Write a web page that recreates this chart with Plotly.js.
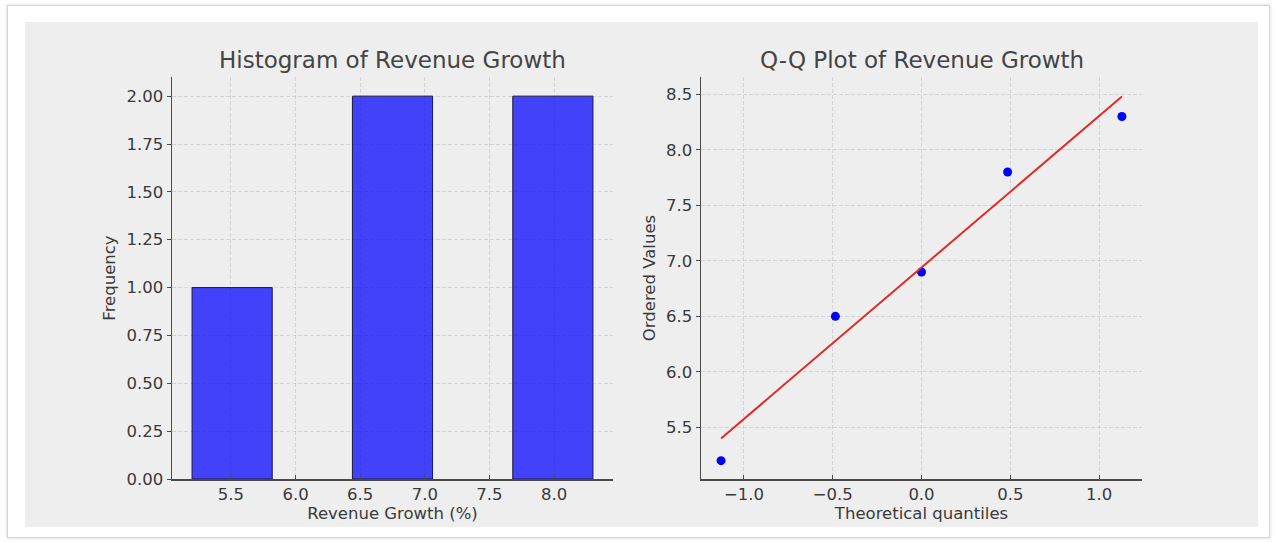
<!DOCTYPE html>
<html>
<head>
<meta charset="utf-8">
<script src="https://cdn.plot.ly/plotly-3.0.1.min.js"></script>
<style>
  html, body { margin: 0; padding: 0; background: #ffffff; }
  #page { position: relative; width: 1275px; height: 542px; overflow: hidden; }
  #card {
    position: absolute; left: 7px; top: 5px; width: 1263px; height: 533px;
    background: #ffffff; border: 1px solid #d4d4d4; box-sizing: border-box;
    box-shadow: 0 0 3px rgba(0,0,0,0.18);
  }
  #panel {
    position: absolute; left: 25px; top: 22px; width: 1233px; height: 505px;
    background: #eeeeee;
  }
  #chart { position: absolute; left: 0; top: 0; width: 1275px; height: 542px; }
</style>
</head>
<body>
<div id="page">
  <div id="card"></div>
  <div id="panel"></div>
  <div id="chart"></div>
</div>
<script>
// Revenue growth observations (%)
const revenueGrowth = [5.2, 6.5, 6.9, 7.8, 8.3];

// Histogram: left edge of each bin, bin width and count per bin
const binLeftEdges = [5.2, 5.82, 6.44, 7.06, 7.68];
const binWidth = 0.62;
const binCounts = [1, 0, 2, 0, 2];

// Q-Q plot: theoretical normal quantiles, ordered sample and fitted line
const theoreticalQuantiles = [-1.129, -0.485, 0.0, 0.485, 1.129];
const orderedValues = [5.2, 6.5, 6.9, 7.8, 8.3];
const fitLineValues = [5.40, 6.28, 6.94, 7.60, 8.48];

// Tick labels
const histXTicks = [5.5, 6.0, 6.5, 7.0, 7.5, 8.0];
const histYTicks = [0, 0.25, 0.5, 0.75, 1.0, 1.25, 1.5, 1.75, 2.0];
const qqXTicks = [-1.0, -0.5, 0.0, 0.5, 1.0];
const qqYTicks = [5.5, 6.0, 6.5, 7.0, 7.5, 8.0, 8.5];

const FONT = 'DejaVu Sans, Liberation Sans, sans-serif';
const TEXT = '#3a3a3a';
const AXIS = '#4a4a4a';
const GRID = 'rgba(150,150,165,0.30)';

const traces = [
  {
    type: 'bar',
    x: binLeftEdges,
    y: binCounts,
    width: binWidth,
    offset: 0,
    marker: {
      color: 'rgba(0,0,255,0.72)',
      // empty bins get no outline so nothing is drawn on the baseline
      line: { color: '#1a1a40', width: binCounts.map(c => (c > 0 ? 1 : 0)) }
    },
    xaxis: 'x', yaxis: 'y',
    hoverinfo: 'x+y',
    showlegend: false
  },
  {
    type: 'scatter', mode: 'markers',
    x: theoreticalQuantiles, y: orderedValues,
    marker: { color: '#0000ff', size: 9 },
    xaxis: 'x2', yaxis: 'y2',
    showlegend: false
  },
  {
    type: 'scatter', mode: 'lines',
    x: theoreticalQuantiles, y: fitLineValues,
    line: { color: '#dd2c28', width: 2 },
    xaxis: 'x2', yaxis: 'y2',
    showlegend: false
  }
];

function axisBase(extra) {
  return Object.assign({
    showline: true, linecolor: AXIS, linewidth: 1.5,
    zeroline: false, showgrid: true,
    gridcolor: GRID, griddash: '4px,2px', gridwidth: 1,
    tickcolor: AXIS, ticklen: 4, tickwidth: 1,
    tickfont: { family: FONT, size: 16.5, color: TEXT },
    tickmode: 'array', mirror: false, fixedrange: true
  }, extra);
}

const W = 1275, H = 542;
const yDom = [(H - 479) / H, (H - 77) / H];

const layout = {
  width: W, height: H,
  margin: { l: 0, r: 0, t: 0, b: 0 },
  paper_bgcolor: 'rgba(0,0,0,0)',
  plot_bgcolor: 'rgba(0,0,0,0)',
  font: { family: FONT, color: TEXT },
  bargap: 0,
  xaxis: axisBase({
    domain: [172 / W, 613 / W], range: [5.045, 8.455],
    tickvals: histXTicks, ticktext: histXTicks.map(v => v.toFixed(1)),
    ticks: 'inside', anchor: 'y',
    title: { text: 'Revenue Growth (%)', font: { family: FONT, size: 16.5, color: TEXT }, standoff: 4 }
  }),
  yaxis: axisBase({
    domain: yDom, range: [0, 2.1],
    tickvals: histYTicks, ticktext: histYTicks.map(v => v.toFixed(2)),
    ticks: 'outside', anchor: 'x',
    title: { text: 'Frequency', font: { family: FONT, size: 16.5, color: TEXT }, standoff: 6 }
  }),
  xaxis2: axisBase({
    domain: [701 / W, 1142 / W], range: [-1.242, 1.242],
    tickvals: qqXTicks, ticktext: qqXTicks.map(v => v.toFixed(1).replace('-', '\u2212')),
    ticks: 'inside', anchor: 'y2',
    title: { text: 'Theoretical quantiles', font: { family: FONT, size: 16.5, color: TEXT }, standoff: 4 }
  }),
  yaxis2: axisBase({
    domain: yDom, range: [5.035, 8.656],
    tickvals: qqYTicks, ticktext: qqYTicks.map(v => v.toFixed(1)),
    ticks: 'outside', anchor: 'x2',
    title: { text: 'Ordered Values', font: { family: FONT, size: 16.5, color: TEXT }, standoff: 6 }
  }),
  annotations: [
    {
      text: 'Histogram of Revenue Growth', xref: 'paper', yref: 'paper',
      x: (172 + 613) / 2 / W, y: (H - 60) / H, xanchor: 'center', yanchor: 'middle',
      showarrow: false, font: { family: FONT, size: 23, color: '#444444' }
    },
    {
      text: 'Q-Q Plot of Revenue Growth', xref: 'paper', yref: 'paper',
      x: (701 + 1142) / 2 / W, y: (H - 60) / H, xanchor: 'center', yanchor: 'middle',
      showarrow: false, font: { family: FONT, size: 23, color: '#444444' }
    }
  ]
};

Plotly.newPlot('chart', traces, layout, { staticPlot: true, displayModeBar: false });
</script>
</body>
</html>
